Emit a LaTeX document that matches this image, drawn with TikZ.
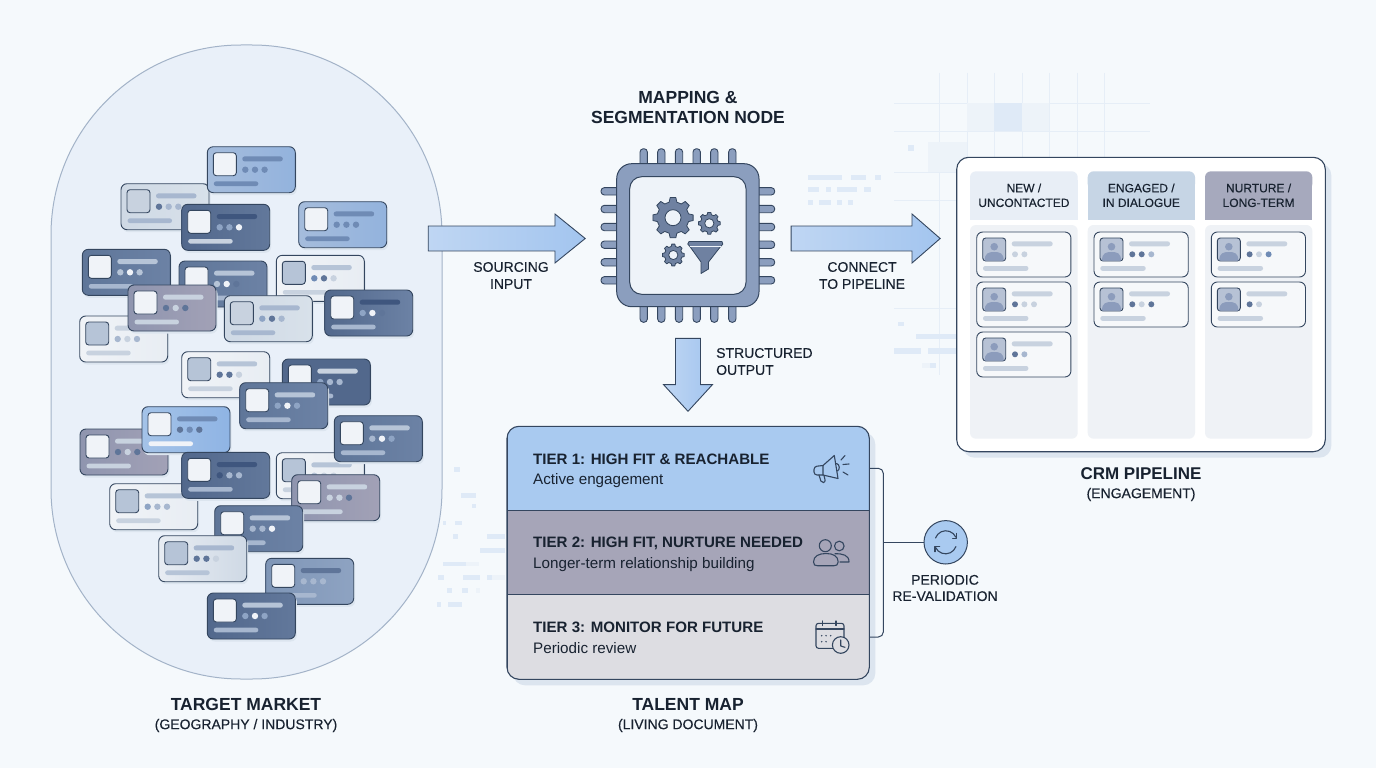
\documentclass[tikz,border=0pt]{standalone}
\usepackage{fontspec}
\setmainfont{Liberation Sans}
\newfontfamily\labelfont[FakeBold=0.25]{Liberation Sans}
\usetikzlibrary{shapes.arrows}

\definecolor{pagefill}{HTML}{F5F9FC}
\definecolor{blobfill}{HTML}{E9F0F9}
\definecolor{blobline}{HTML}{A3B3C8}
\definecolor{inkline}{HTML}{34465F}
\definecolor{inktext}{HTML}{182230}
\definecolor{shadowtint}{HTML}{DCE5EF}
\definecolor{gridtint}{HTML}{E6EEF7}
\definecolor{decotint}{HTML}{DFEAF7}
\definecolor{decopale}{HTML}{EDF3F9}
\definecolor{arrowl}{HTML}{BFD6F3}
\definecolor{arrowr}{HTML}{A3C5EF}
\definecolor{chipfill}{HTML}{8B9EBE}
\definecolor{chipinner}{HTML}{EEF3F9}
\definecolor{gearfill}{HTML}{6F81A1}
\definecolor{tieronefill}{HTML}{A9CAF0}
\definecolor{tiertwofill}{HTML}{A6A5B8}
\definecolor{tierthreefill}{HTML}{DDDDE2}
\definecolor{headone}{HTML}{E8EEF6}
\definecolor{headtwo}{HTML}{C6D5E5}
\definecolor{headthree}{HTML}{A6A9BD}
\definecolor{columnfill}{HTML}{EFF2F6}
\definecolor{avatarfill}{HTML}{B7C2D5}
\definecolor{avatarbody}{HTML}{8C9CBC}
\definecolor{minicardfill}{HTML}{F6F8FA}
\definecolor{bluel}{HTML}{A5BCDC}
\definecolor{bluer}{HTML}{93B3DD}
\definecolor{skyl}{HTML}{A4C3E8}
\definecolor{skyr}{HTML}{8FB4E4}
\definecolor{slatel}{HTML}{52688C}
\definecolor{slater}{HTML}{62789B}
\definecolor{steell}{HTML}{5F7699}
\definecolor{steelr}{HTML}{6C82A5}
\definecolor{mistl}{HTML}{7F96B7}
\definecolor{mistr}{HTML}{8EA3C2}
\definecolor{purl}{HTML}{8F95AF}
\definecolor{purr}{HTML}{A2A1B6}
\definecolor{palel}{HTML}{CFD9E5}
\definecolor{paler}{HTML}{D8E1EA}
\definecolor{snowl}{HTML}{F0F3F7}
\definecolor{snowr}{HTML}{E8EDF3}
\definecolor{bright}{HTML}{F0F3F8}
\definecolor{deep}{HTML}{3F567E}
\definecolor{mid}{HTML}{6F8BB5}
\definecolor{soft}{HTML}{B6C4D7}
\definecolor{dim}{HTML}{A7B7CF}
\definecolor{faint}{HTML}{C8D2DF}
\definecolor{dotdark}{HTML}{5F7599}
\definecolor{dotmid}{HTML}{8EA4C4}

\tikzset{
    cardedge/.style={draw=inkline, line width=0.9pt, rounded corners=6pt},
    blockarrow/.style={single arrow, draw=inkline, line width=0.9pt, left color=arrowl, right color=arrowr, inner sep=0pt, text width=24pt, text height=24pt, text depth=0pt, minimum width=49pt, single arrow head extend=12pt},
    maintitle/.style={font=\bfseries\fontsize{17.5}{20.5}\selectfont, text=inktext, align=center},
    subtitle/.style={font=\labelfont\fontsize{14}{17}\selectfont, text=inktext, align=center},
    flowlabel/.style={font=\labelfont\fontsize{14}{17}\selectfont, text=inktext, align=center},
    headerlabel/.style={font=\labelfont\fontsize{12}{14.7}\selectfont, text=inktext, align=center},
    tierrow/.style={draw=inkline, line width=0.9pt, minimum width=362.3pt, inner sep=0pt},
    tiertitle/.style={font=\bfseries\fontsize{15.1}{18}\selectfont, text=inktext, anchor=west, inner sep=0pt},
    tiernote/.style={font=\fontsize{15.2}{18}\selectfont, text=inktext, anchor=west, inner sep=0pt},
    iconline/.style={draw=inkline, line width=1.1pt, line join=round, line cap=round},
    pinshape/.style={draw=inkline, fill=chipfill, line width=0.9pt, rounded corners=3.4pt},
    gearpart/.style={draw=inkline, fill=gearfill, line width=0.8pt, line join=round},
    bracketline/.style={draw=inkline, line width=1pt},
}

\newcommand{\profilecard}[9]{
    \begin{scope}[shift={(#1)}]
        \fill[shadowtint, rounded corners=6pt] (1.5,2.5) rectangle (89.5,48.5);
        \draw[cardedge, left color=#2, right color=#3] (0,0) rectangle (88,46);
        \filldraw[cardedge, fill=#4, rounded corners=3pt] (6,6) rectangle (29,29);
        \fill[#5, rounded corners=2.4pt] (35,9.7) rectangle (75.5,14.7);
        \fill[#6] (38,23) circle (3.2);
        \fill[#7] (47.7,23) circle (3.2);
        \fill[#8] (57.3,23) circle (3.2);
        \fill[#9, rounded corners=2.2pt] (6.5,34.7) rectangle (51,39.3);
    \end{scope}
}

\newcommand{\pipelinecard}[4]{
    \begin{scope}[shift={(#1)}]
        \filldraw[cardedge, fill=minicardfill] (0,0) rectangle (94.2,45);
        \filldraw[cardedge, fill=avatarfill, rounded corners=3pt] (6,6) rectangle (29,29);
        \fill[avatarbody] (8,28.5) .. controls (8,21) and (12,20) .. (17.5,20) .. controls (23,20) and (27,21) .. (27,28.5) -- cycle;
        \fill[avatarbody] (17.5,14.7) circle (3.8);
        \fill[faint, rounded corners=2.4pt] (35,9.3) rectangle (76,14.3);
        \fill[#2] (38.3,22.3) circle (3);
        \fill[#3] (47.7,22.3) circle (3);
        \fill[#4] (57.3,22.3) circle (3);
        \fill[faint, rounded corners=2.2pt] (6.3,34) rectangle (51.7,38.8);
    \end{scope}
}

\newcommand{\gearicon}[4]{
    \filldraw[gearpart, shift={(#1)}] (-14:#3)
        \foreach \toothangle in {0,45,...,315}{
            -- (\toothangle-14:#3) -- (\toothangle-8:#2) -- (\toothangle+8:#2) -- (\toothangle+14:#3)
        } -- cycle;
    \filldraw[gearpart, fill=chipinner, shift={(#1)}] (0,0) circle (#4);
}

\begin{document}
\begin{tikzpicture}[x=1pt, y=1pt, yscale=-1]
    \useasboundingbox (0,0) rectangle (1376,768);
    \fill[pagefill] (0,0) rectangle (1376,768);

    \draw[gridtint] (939,73) -- (939,375);
    \draw[gridtint] (966.7,73) -- (966.7,375);
    \draw[gridtint] (994,73) -- (994,375);
    \draw[gridtint] (1021.7,73) -- (1021.7,375);
    \draw[gridtint] (1049,73) -- (1049,375);
    \draw[gridtint] (1076.7,73) -- (1076.7,375);
    \draw[gridtint] (1104,73) -- (1104,375);
    \draw[gridtint] (894,103) -- (1150,103);
    \draw[gridtint] (894,131) -- (1150,131);
    \draw[gridtint] (894,172) -- (1150,172);
    \draw[gridtint] (894,200) -- (1150,200);
    \draw[gridtint] (894,308) -- (1150,308);

    \fill[decopale] (966.7,103) rectangle (994,131);
    \fill[decotint] (994,103) rectangle (1021.7,131);
    \fill[decopale] (1021.7,103) rectangle (1049,131);
    \fill[decopale] (927.7,142) rectangle (966.7,172);
    \fill[decotint] (907.7,145) rectangle (914,150.7);
    \fill[decotint] (808,175) rectangle (842,179.5);
    \fill[decotint] (850.7,175) rectangle (865.7,179.5);
    \fill[decotint] (875,175) rectangle (881,179.5);
    \fill[decotint] (808,187) rectangle (819,191.5);
    \fill[decotint] (826,187) rectangle (830.7,191.5);
    \fill[decotint] (836.7,187) rectangle (857,191.5);
    \fill[decotint] (864,187) rectangle (870.7,191.5);
    \fill[decotint] (808,200) rectangle (813,204.5);
    \fill[decotint] (819,200) rectangle (831,204.5);
    \fill[decotint] (837,200) rectangle (842,204.5);
    \fill[decotint] (848,200) rectangle (853,204.5);
    \fill[decotint] (898,321.7) rectangle (903.7,326);
    \fill[decotint] (915.7,334) rectangle (957,339);
    \fill[decotint] (894,348) rectangle (920.7,354);
    \fill[decotint] (928,348) rectangle (957,354);
    \fill[decopale] (921.7,363) rectangle (930,368);
    \fill[decotint] (930,363) rectangle (936,368);

    \fill[decotint] (454.3,466.7) rectangle (459.7,472);
    \fill[decotint] (461,493.3) rectangle (476,498.3);
    \fill[decotint] (472,503.7) rectangle (476,508.3);
    \fill[decotint] (443.3,520.7) rectangle (445.7,525);
    \fill[decotint] (455,520.7) rectangle (461.7,525);
    \fill[decotint] (453.3,534.3) rectangle (458.3,539);
    \fill[decotint] (486.7,534.3) rectangle (505,539);
    \fill[decotint] (480,548) rectangle (505,552.7);
    \fill[decotint] (442.7,561.7) rectangle (466,566);
    \fill[decopale] (466,561.7) rectangle (479,566);
    \fill[decotint] (438.3,575) rectangle (444,580);
    \fill[decotint] (462.7,575) rectangle (480,580);
    \fill[decotint] (486.7,575) rectangle (491.7,580);
    \fill[decopale] (491.7,575) rectangle (505,580);
    \fill[decotint] (446.7,588.3) rectangle (452,593.3);
    \fill[decotint] (462.3,588.3) rectangle (467.7,593.3);
    \fill[decopale] (475.7,588.3) rectangle (480,593.3);
    \fill[decotint] (436.7,601.7) rectangle (441,606.7);
    \fill[decotint] (448.3,601.7) rectangle (461.7,606.7);

    \filldraw[draw=blobline, fill=blobfill, line width=1pt, rounded corners=190pt] (51,45) rectangle (442,679);

    \profilecard{121,183.7}{palel}{paler}{faint}{dim}{dotdark}{dim}{dim}{dim}
    \profilecard{207.3,146.7}{bluel}{bluer}{bright}{mid}{mid}{mid}{mid}{mid}
    \profilecard{181.7,204.3}{slatel}{slater}{bright}{deep}{dotmid}{dotmid}{bright}{faint}
    \profilecard{298.7,201.7}{bluel}{bluer}{bright}{mid}{mid}{mid}{mid}{mid}
    \profilecard{79.7,316}{snowl}{snowr}{soft}{faint}{dim}{faint}{dim}{faint}
    \profilecard{82.3,249.3}{steell}{steelr}{bright}{soft}{soft}{bright}{soft}{dim}
    \profilecard{179,261}{steell}{steelr}{bright}{soft}{soft}{bright}{dotdark}{dim}
    \profilecard{276.3,255.3}{snowl}{snowr}{soft}{soft}{mid}{dotdark}{faint}{faint}
    \profilecard{128,285}{purl}{purr}{bright}{faint}{dotdark}{faint}{dotdark}{faint}
    \profilecard{224.3,295.7}{palel}{paler}{faint}{dim}{dotmid}{dotdark}{dim}{dim}
    \profilecard{324.7,290}{slatel}{steelr}{bright}{deep}{dotmid}{bright}{dotdark}{dim}

    \profilecard{181.7,351.7}{snowl}{snowr}{soft}{soft}{dotdark}{dotdark}{faint}{faint}
    \profilecard{282.3,359}{slatel}{slatel}{bright}{faint}{dotmid}{dim}{dim}{dim}
    \profilecard{239.7,382.7}{steell}{steelr}{bright}{soft}{dotmid}{bright}{dotmid}{dim}
    \profilecard{80,429}{purl}{purr}{bright}{faint}{dotdark}{faint}{dotdark}{faint}
    \profilecard{142,406.7}{skyl}{skyr}{bright}{mid}{dotdark}{mid}{dotdark}{bright}
    \profilecard{276.3,452.7}{snowl}{snowr}{soft}{soft}{soft}{faint}{faint}{faint}
    \profilecard{334.3,415.7}{steell}{steelr}{bright}{soft}{dim}{bright}{dotmid}{dim}
    \profilecard{291.7,474.7}{purl}{purr}{bright}{faint}{faint}{faint}{dotdark}{faint}
    \profilecard{109.7,483.7}{snowl}{snowr}{soft}{soft}{dotmid}{dim}{dim}{faint}
    \profilecard{181.7,452.3}{slatel}{slater}{bright}{deep}{deep}{dim}{dim}{dim}
    \profilecard{214.7,505.7}{steell}{steelr}{bright}{soft}{dim}{dim}{bright}{dim}
    \profilecard{158.7,535.7}{snowr}{palel}{soft}{dim}{dotdark}{dotdark}{faint}{soft}
    \profilecard{265.7,558.3}{mistl}{mistr}{bright}{dotdark}{dim}{dim}{dim}{dim}
    \profilecard{207.3,593}{slatel}{slater}{bright}{soft}{dotmid}{bright}{dotmid}{dim}

    \node (markettitle) [maintitle] at (246,704.5) {TARGET MARKET};
    \node (marketnote) [subtitle] at (246,725.5) {(GEOGRAPHY / INDUSTRY)};

    \node (sourcingarrow) [blockarrow, minimum height=157pt, single arrow tip angle=78] at (499,238.5) {};
    \node (sourcinglabel) [flowlabel] at (511,275.5) {SOURCING\\INPUT};
    \node (connectarrow) [blockarrow, minimum height=149pt, single arrow tip angle=82] at (858.5,238.5) {};
    \node (connectlabel) [flowlabel] at (862,275.5) {CONNECT\\TO PIPELINE};
    \node (outputarrow) [blockarrow, minimum height=73pt, single arrow tip angle=85, shape border rotate=270] at (688,368) {};
    \node (outputlabel) [flowlabel, anchor=west, align=left, inner sep=0pt] at (716,361.5) {STRUCTURED\\OUTPUT};

    \node (chiptitle) [maintitle] at (688,107.5) {MAPPING \&\\SEGMENTATION NODE};

    \filldraw[pinshape] (640,148.7) rectangle (647.4,172);
    \filldraw[pinshape] (657.6,148.7) rectangle (665,172);
    \filldraw[pinshape] (675.3,148.7) rectangle (682.7,172);
    \filldraw[pinshape] (693,148.7) rectangle (700.4,172);
    \filldraw[pinshape] (710.6,148.7) rectangle (718,172);
    \filldraw[pinshape] (728.6,148.7) rectangle (736,172);
    \filldraw[pinshape] (640,298) rectangle (647.4,322.3);
    \filldraw[pinshape] (657.6,298) rectangle (665,322.3);
    \filldraw[pinshape] (675.3,298) rectangle (682.7,322.3);
    \filldraw[pinshape] (693,298) rectangle (700.4,322.3);
    \filldraw[pinshape] (710.6,298) rectangle (718,322.3);
    \filldraw[pinshape] (728.6,298) rectangle (736,322.3);
    \filldraw[pinshape] (601,187.6) rectangle (625,195);
    \filldraw[pinshape] (601,205.3) rectangle (625,212.7);
    \filldraw[pinshape] (601,223.3) rectangle (625,230.7);
    \filldraw[pinshape] (601,241) rectangle (625,248.4);
    \filldraw[pinshape] (601,258.6) rectangle (625,266);
    \filldraw[pinshape] (601,276.6) rectangle (625,284);
    \filldraw[pinshape] (750,187.6) rectangle (774.7,195);
    \filldraw[pinshape] (750,205.3) rectangle (774.7,212.7);
    \filldraw[pinshape] (750,223.3) rectangle (774.7,230.7);
    \filldraw[pinshape] (750,241) rectangle (774.7,248.4);
    \filldraw[pinshape] (750,258.6) rectangle (774.7,266);
    \filldraw[pinshape] (750,276.6) rectangle (774.7,284);

    \filldraw[draw=inkline, fill=chipfill, line width=1pt, rounded corners=15pt] (616.7,163.7) rectangle (759,306.7);
    \filldraw[draw=inkline, fill=chipinner, line width=1pt, rounded corners=12pt] (629.7,176.7) rectangle (746,294.3);

    \gearicon{673,217.7}{20.3}{16}{8}
    \gearicon{709.3,223.3}{11}{8.8}{4.6}
    \gearicon{673.3,255}{11}{8.8}{4.6}
    \filldraw[gearpart] (689,241.5) -- (722,241.5) .. controls (723.5,243.5) and (723,245.5) .. (721,246) -- (708.5,262) -- (708.5,269) -- (701,273.5) -- (701,262) -- (689.5,246) .. controls (687.5,245.5) and (687,243) .. (689,241.5) -- cycle;
    \draw[draw=chipinner, line width=0.8pt] (690,246) -- (720.5,246);

    \fill[shadowtint, rounded corners=12pt] (962.7,163.3) rectangle (1331.3,457.7);
    \filldraw[draw=inkline, fill=white, line width=1.1pt, rounded corners=12pt] (956.7,157.3) rectangle (1325.3,451.7);

    \fill[headone, rounded corners=6pt] (970,171.3) rectangle (1077.7,190);
    \fill[headone] (970,180) rectangle (1077.7,219.7);
    \fill[headtwo, rounded corners=6pt] (1087.7,171.3) rectangle (1195,190);
    \fill[headtwo] (1087.7,180) rectangle (1195,219.7);
    \fill[headthree, rounded corners=6pt] (1205,171.3) rectangle (1312.3,190);
    \fill[headthree] (1205,180) rectangle (1312.3,219.7);

    \fill[columnfill, rounded corners=6pt] (970,225) rectangle (1077.7,438.7);
    \fill[columnfill, rounded corners=6pt] (1087.7,225) rectangle (1195,438.7);
    \fill[columnfill, rounded corners=6pt] (1205,225) rectangle (1312.3,438.7);

    \node (newheader) [headerlabel] at (1023.9,195.3) {NEW /\\UNCONTACTED};
    \node (engagedheader) [headerlabel] at (1141.3,195.3) {ENGAGED /\\IN DIALOGUE};
    \node (nurtureheader) [headerlabel] at (1258.6,195.3) {NURTURE /\\LONG-TERM};

    \pipelinecard{976.7,232}{faint}{faint}{minicardfill}
    \pipelinecard{976.7,282}{dotdark}{faint}{faint}
    \pipelinecard{976.7,332}{dotdark}{dim}{minicardfill}
    \pipelinecard{1094,232}{dotdark}{dotdark}{dim}
    \pipelinecard{1094,282}{dotdark}{faint}{dotdark}
    \pipelinecard{1211.3,232}{dotdark}{faint}{mid}
    \pipelinecard{1211.3,282}{dotdark}{faint}{minicardfill}

    \node (crmtitle) [maintitle, font=\bfseries\fontsize{17}{20}\selectfont] at (1141,474) {CRM PIPELINE};
    \node (crmnote) [subtitle] at (1141,494.5) {(ENGAGEMENT)};

    \fill[shadowtint, rounded corners=12pt] (513,432.3) rectangle (875.3,685.3);
    \begin{scope}
        \clip[rounded corners=12pt] (507,426.3) rectangle (869.3,679.3);
        \node (tierone) [tierrow, fill=tieronefill, minimum height=84pt] at (688.15,468.3) {};
        \node (tiertwo) [tierrow, fill=tiertwofill, minimum height=84.4pt] at (688.15,552.5) {};
        \node (tierthree) [tierrow, fill=tierthreefill, minimum height=84.6pt] at (688.15,637) {};
    \end{scope}
    \draw[draw=inkline, line width=1.1pt, rounded corners=12pt] (507,426.3) rectangle (869.3,679.3);

    \node (tieronetitle) [tiertitle] at (533,459) {TIER 1: HIGH FIT \& REACHABLE};
    \node (tieronenote) [tiernote] at (533,480.3) {Active engagement};
    \node (tiertwotitle) [tiertitle] at (533,543) {TIER 2: HIGH FIT, NURTURE NEEDED};
    \node (tiertwonote) [tiernote] at (533,564.5) {Longer-term relationship building};
    \node (tierthreetitle) [tiertitle] at (533,627.5) {TIER 3: MONITOR FOR FUTURE};
    \node (tierthreenote) [tiernote] at (533,648.5) {Periodic review};

    \draw[iconline] (823,465.5) -- (834.3,455.5) -- (838,478.5) -- (823,475) -- cycle;
    \draw[iconline, rounded corners=3pt] (823,465.5) -- (814,466.5) -- (814,475) -- (823,475);
    \draw[iconline, rounded corners=2pt] (819,475) -- (821.5,483) -- (825.5,482) -- (824,475.5);
    \draw[iconline] (836.5,463.5) .. controls (840,464) and (840,470) .. (837.5,471);
    \draw[iconline] (841,460) -- (845,455.5);
    \draw[iconline] (843,464.5) -- (849,464);
    \draw[iconline] (843,472) -- (848,475);

    \draw[iconline] (825.3,545.7) circle (6);
    \draw[iconline] (839.3,546) circle (4.8);
    \draw[iconline] (813.5,562) .. controls (813.5,556) and (819,553.5) .. (826,553.5) .. controls (833,553.5) and (838.2,556) .. (838.2,562) .. controls (838.2,565) and (836,565.7) .. (834,565.7) -- (817.5,565.7) .. controls (815,565.7) and (813.5,565) .. (813.5,562) -- cycle;
    \draw[iconline] (835,553.7) .. controls (843,553.7) and (849,555) .. (849,562) -- (840,562);

    \draw[iconline, rounded corners=2.5pt] (816,623.3) rectangle (844,648.3);
    \draw[iconline] (816,629) -- (844,629);
    \draw[iconline] (822.3,621) -- (822.3,625.5);
    \draw[iconline] (836,621) -- (836,625.5);
    \fill[inkline] (821.7,635.7) circle (0.8);
    \fill[inkline] (826,635.7) circle (0.8);
    \fill[inkline] (830.7,635.7) circle (0.8);
    \fill[inkline] (821.7,641.7) circle (0.8);
    \fill[inkline] (826,641.7) circle (0.8);
    \filldraw[iconline, fill=tierthreefill] (840.7,645) circle (8.3);
    \draw[iconline] (840.7,640) -- (840.7,646) -- (845,647.3);

    \coordinate (bracketmid) at (883.3,542.3);
    \node (recheck) [circle, draw=inkline, fill=tieronefill, line width=1pt, minimum size=43.4pt, inner sep=0pt] at (945.7,542.3) {};
    \draw[bracketline, rounded corners=5pt] (tierone.east) -- (bracketmid |- tierone.east) -- (bracketmid |- tierthree.east) -- (tierthree.east);
    \draw[bracketline] (bracketmid) -- (recheck);
    \draw[iconline] (935.5,538) arc (200:335:11);
    \draw[iconline] (952.7,538.3) -- (956.7,538.3) -- (956.7,533.3);
    \draw[iconline] (955.9,546.6) arc (20:155:11);
    \draw[iconline] (939.7,546.7) -- (935,546.7) -- (935,551.7);
    \node (recheckinglabel) [flowlabel, font=\labelfont\fontsize{14}{16.3}\selectfont] at (945,588) {PERIODIC\\RE-VALIDATION};

    \node (talenttitle) [maintitle] at (688,704.5) {TALENT MAP};
    \node (talentnote) [subtitle] at (688,725.5) {(LIVING DOCUMENT)};
\end{tikzpicture}
\end{document}
